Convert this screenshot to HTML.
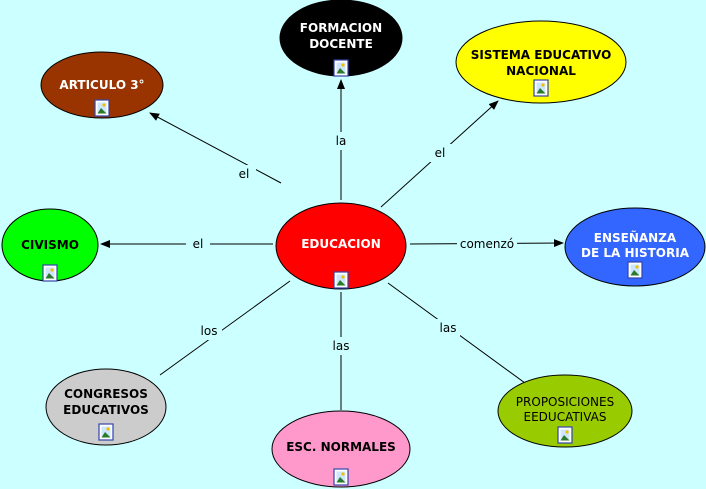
<!DOCTYPE html>
<html><head><meta charset="utf-8"><style>
html,body{margin:0;padding:0;background:#ccffff;}
svg{display:block;font-family:"DejaVu Sans","Liberation Sans",sans-serif;}
.l{stroke:#000;stroke-width:1;fill:none}
.lb{font-size:12px;fill:#000;text-anchor:middle}
.n{font-size:12px;font-weight:bold;text-anchor:middle}
</style></head><body>
<svg width="706" height="489" viewBox="0 0 706 489">
<defs>
<marker id="a" markerWidth="10" markerHeight="8" refX="9" refY="4" orient="auto" markerUnits="userSpaceOnUse">
<path d="M0,0 L10,4 L0,8 z" fill="#000"/></marker>
<g id="ic"><rect x="-7" y="-8" width="14" height="16" fill="#fff" stroke="#3344aa" stroke-width="1.2"/><rect x="-4.5" y="-5.5" width="9" height="11" fill="#cce6ff"/><path d="M-4.5,5.5 L-1,0 L4.5,5.5z" fill="#2a7a2a"/><circle cx="2" cy="-3" r="1.6" fill="#f0c000"/></g>
</defs>
<rect width="706" height="489" fill="#ccffff"/>
<line class="l" x1="341" y1="200" x2="341" y2="80" marker-end="url(#a)"/>
<line class="l" x1="281" y1="183" x2="150" y2="113" marker-end="url(#a)"/>
<line class="l" x1="381" y1="207" x2="498" y2="101" marker-end="url(#a)"/>
<line class="l" x1="273" y1="244" x2="101" y2="244" marker-end="url(#a)"/>
<line class="l" x1="410" y1="244" x2="563" y2="243" marker-end="url(#a)"/>
<line class="l" x1="290" y1="281" x2="160" y2="375"/>
<line class="l" x1="341" y1="292" x2="341" y2="410"/>
<line class="l" x1="388" y1="283" x2="525" y2="383"/>
<g fill="#ccffff">
<rect x="331" y="132" width="20" height="18"/>
<rect x="232" y="165" width="24" height="18"/>
<rect x="428" y="144" width="24" height="18"/>
<rect x="186" y="235" width="24" height="18"/>
<rect x="457" y="235" width="60" height="18"/>
<rect x="196" y="322" width="26" height="18"/>
<rect x="329" y="337" width="24" height="18"/>
<rect x="436" y="319" width="24" height="18"/>
</g>
<text class="lb" x="341" y="145">la</text>
<text class="lb" x="244" y="178">el</text>
<text class="lb" x="440" y="157">el</text>
<text class="lb" x="198" y="248">el</text>
<text class="lb" x="487" y="248">comenzó</text>
<text class="lb" x="209" y="335">los</text>
<text class="lb" x="341" y="350">las</text>
<text class="lb" x="448" y="332">las</text>
<ellipse cx="341" cy="246" rx="65" ry="43" fill="#ff0000" stroke="#000"/>
<text class="n" x="341" y="248" fill="#fff">EDUCACION</text><use href="#ic" x="341" y="280"/>
<ellipse cx="341" cy="38" rx="61" ry="38" fill="#000" stroke="#000"/>
<text class="n" x="341" y="32" fill="#fff">FORMACION</text><text class="n" x="341" y="48" fill="#fff">DOCENTE</text><use href="#ic" x="341" y="68"/>
<ellipse cx="102" cy="85" rx="61" ry="33" fill="#993300" stroke="#000"/>
<text class="n" x="102" y="89" fill="#fff">ARTICULO 3°</text><use href="#ic" x="102" y="108"/>
<ellipse cx="541" cy="62" rx="85" ry="41" fill="#ffff00" stroke="#000"/>
<text class="n" x="541" y="59" fill="#000">SISTEMA EDUCATIVO</text><text class="n" x="541" y="75" fill="#000">NACIONAL</text><use href="#ic" x="541" y="88"/>
<ellipse cx="50" cy="245" rx="48" ry="36" fill="#00ff00" stroke="#000"/>
<text class="n" x="50" y="249" fill="#000">CIVISMO</text><use href="#ic" x="50" y="273"/>
<ellipse cx="635" cy="247" rx="70" ry="39" fill="#3366ff" stroke="#000"/>
<text class="n" x="635" y="242" fill="#fff">ENSEÑANZA</text><text class="n" x="635" y="257" fill="#fff">DE LA HISTORIA</text><use href="#ic" x="635" y="270"/>
<ellipse cx="106" cy="407" rx="60" ry="38" fill="#cccccc" stroke="#000"/>
<text class="n" x="106" y="398" fill="#000">CONGRESOS</text><text class="n" x="106" y="414" fill="#000">EDUCATIVOS</text><use href="#ic" x="106" y="432"/>
<ellipse cx="341" cy="449" rx="69" ry="38" fill="#ff99cc" stroke="#000"/>
<text class="n" x="341" y="451" fill="#000">ESC. NORMALES</text><use href="#ic" x="341" y="477"/>
<ellipse cx="565" cy="411" rx="67" ry="36" fill="#99cc00" stroke="#000"/>
<text x="565" y="406" font-size="12" text-anchor="middle" fill="#000">PROPOSICIONES</text><text x="565" y="421" font-size="12" text-anchor="middle" fill="#000">EEDUCATIVAS</text><use href="#ic" x="565" y="435"/>
</svg>
</body></html>
